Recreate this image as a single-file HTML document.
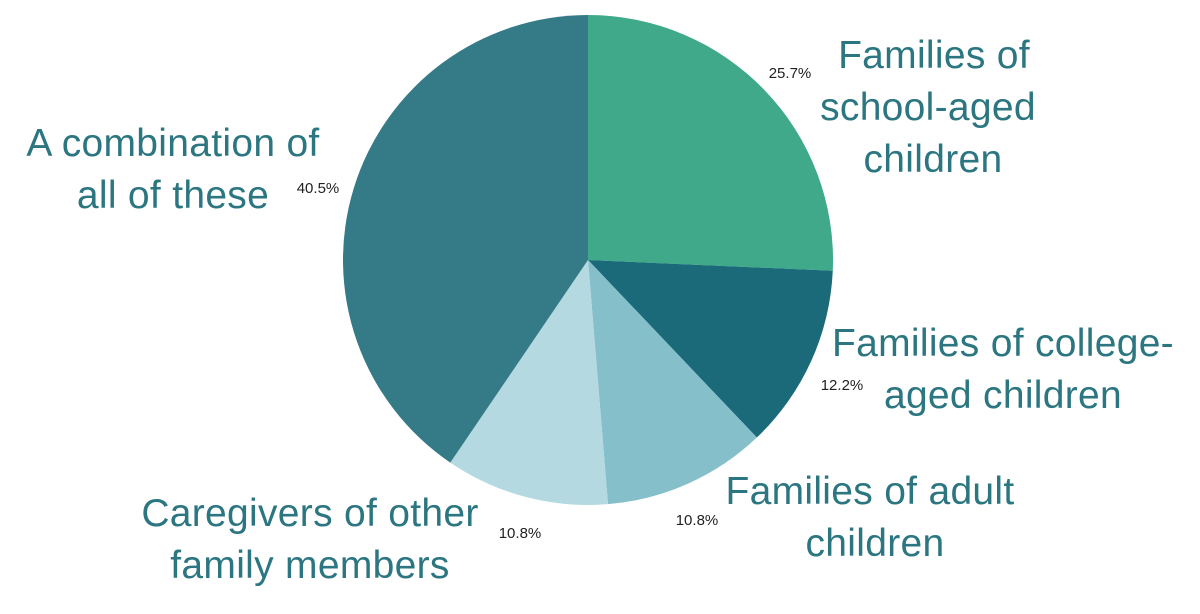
<!DOCTYPE html>
<html><head><meta charset="utf-8"><style>
body{margin:0;background:#fff;width:1200px;height:614px;overflow:hidden}
svg{display:block}
.lab{font-family:"Liberation Sans",sans-serif;font-size:39px;letter-spacing:0.3px;fill:#2b7680}
.pct{font-family:"Liberation Sans",sans-serif;font-size:15px;fill:#222}
</style></head><body>
<svg id="chart" width="1200" height="614"></svg>
<script>
const categories=["Families of school-aged children","Families of college-aged children","Families of adult children","Caregivers of other family members","A combination of all of these"];
const values=[25.7,12.2,10.8,10.8,40.5];
const pctLabels=["25.7%","12.2%","10.8%","10.8%","40.5%"];
const colors=["#3fa98a","#1b6a7a","#85bfca","#b4d9e0","#347a87"];
const NS="http://www.w3.org/2000/svg";
const svg=document.getElementById('chart');
const cx=588,cy=260,r=245;
const total=values.reduce((a,b)=>a+b,0);
let a0=-Math.PI/2;
function pt(a,rr){return [cx+rr*Math.cos(a),cy+rr*Math.sin(a)];}
const pctPos=[[790,78],[842,390],[697,525],[520,538],[318,193]];
values.forEach((v,i)=>{
  const a1=a0+v/total*2*Math.PI;
  const p0=pt(a0,r),p1=pt(a1,r);
  const large=(a1-a0)>Math.PI?1:0;
  const p=document.createElementNS(NS,'path');
  p.setAttribute('d',`M${cx},${cy}L${p0[0]},${p0[1]}A${r},${r} 0 ${large} 1 ${p1[0]},${p1[1]}Z`);
  p.setAttribute('fill',colors[i]);
  
  
  svg.appendChild(p);
  const t=document.createElementNS(NS,'text');
  t.setAttribute('x',pctPos[i][0]);t.setAttribute('y',pctPos[i][1]);
  t.setAttribute('text-anchor','middle');t.setAttribute('class','pct');
  t.textContent=pctLabels[i];
  
  
  svg.appendChild(t);
  a0=a1;
});
const labels=[
 [[934,68,"Families of"],[928,120,"school-aged"],[933,172,"children"]],
 [[1003,356,"Families of college-"],[1003,408,"aged children"]],
 [[870,504,"Families of adult"],[875,556,"children"]],
 [[310,526,"Caregivers of other"],[310,578,"family members"]],
 [[173,156,"A combination of"],[173,208,"all of these"]]
];
labels.forEach((ls,i)=>ls.forEach((l,j)=>{
  const t=document.createElementNS(NS,'text');
  t.setAttribute('x',l[0]);t.setAttribute('y',l[1]);
  t.setAttribute('text-anchor','middle');t.setAttribute('class','lab');
  t.textContent=l[2];
  
  
  svg.appendChild(t);
}));
</script>
</body></html>
